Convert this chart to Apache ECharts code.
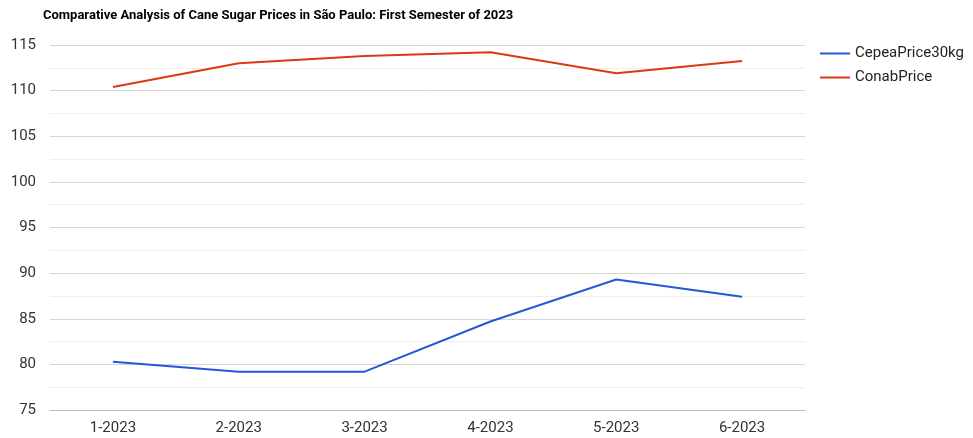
<!DOCTYPE html>
<html>
<head>
<meta charset="utf-8">
<script src="https://cdn.jsdelivr.net/npm/echarts@6/dist/echarts.min.js"></script>
<style>
	html, body { margin: 0; padding: 0; background: #fff; }
	#chart { width: 973px; height: 438px; }
</style>
</head>
<body>
<div id="chart"></div>
<script>
var months = ['1-2023', '2-2023', '3-2023', '4-2023', '5-2023', '6-2023'];
var cepeaPrice = [80.3, 79.2, 79.2, 84.7, 89.3, 87.4]; // CepeaPrice30kg
var conabPrice = [110.4, 113.0, 113.8, 114.2, 111.9, 113.25]; // ConabPrice

var chart = echarts.init(document.getElementById('chart'));

var options = {
	animation: false,
	title: {
		text: 'Comparative Analysis of Cane Sugar Prices in São Paulo: First Semester of 2023',
		left: 38, top: 4,
		textStyle: { fontFamily: 'Roboto', fontSize: 13, fontWeight: 'bold', color: '#000' }
	},
	legend: {
		orient: 'vertical',
		left: 815, top: 41,
		itemWidth: 30, itemHeight: 2, itemGap: 9,
		icon: 'rect',
		textStyle: { fontFamily: 'Roboto', fontSize: 15, color: '#222' },
		data: ['CepeaPrice30kg', 'ConabPrice']
	},
	grid: { left: 50, right: 168, top: 45, bottom: 28, containLabel: false },
	xAxis: {
		type: 'category',
		data: months,
		boundaryGap: true,
		axisLine: { show: true, lineStyle: { color: '#bbb', width: 1 } },
		axisTick: { show: false },
		axisLabel: { fontFamily: 'Roboto', fontSize: 15, color: '#333', margin: 11 }
	},
	yAxis: {
		type: 'value',
		min: 75, max: 115, interval: 5,
		axisLine: { show: false },
		axisTick: { show: false },
		axisLabel: { fontFamily: 'Roboto', fontSize: 15, color: '#333', margin: 14 },
		splitLine: { show: true, lineStyle: { color: '#d6d6d6', width: 1 } },
		minorTick: { show: false, splitNumber: 2 },
		minorSplitLine: { show: true, lineStyle: { color: '#efefef', width: 1 } }
	},
	series: [
		{
			name: 'CepeaPrice30kg',
			type: 'line',
			data: cepeaPrice,
			symbol: 'none',
			lineStyle: { width: 2, color: '#2458d4' },
			itemStyle: { color: '#2458d4' }
		},
		{
			name: 'ConabPrice',
			type: 'line',
			data: conabPrice,
			symbol: 'none',
			lineStyle: { width: 2, color: '#dc3912' },
			itemStyle: { color: '#dc3912' }
		}
	]
};

chart.setOption(options);
</script>
</body>
</html>
